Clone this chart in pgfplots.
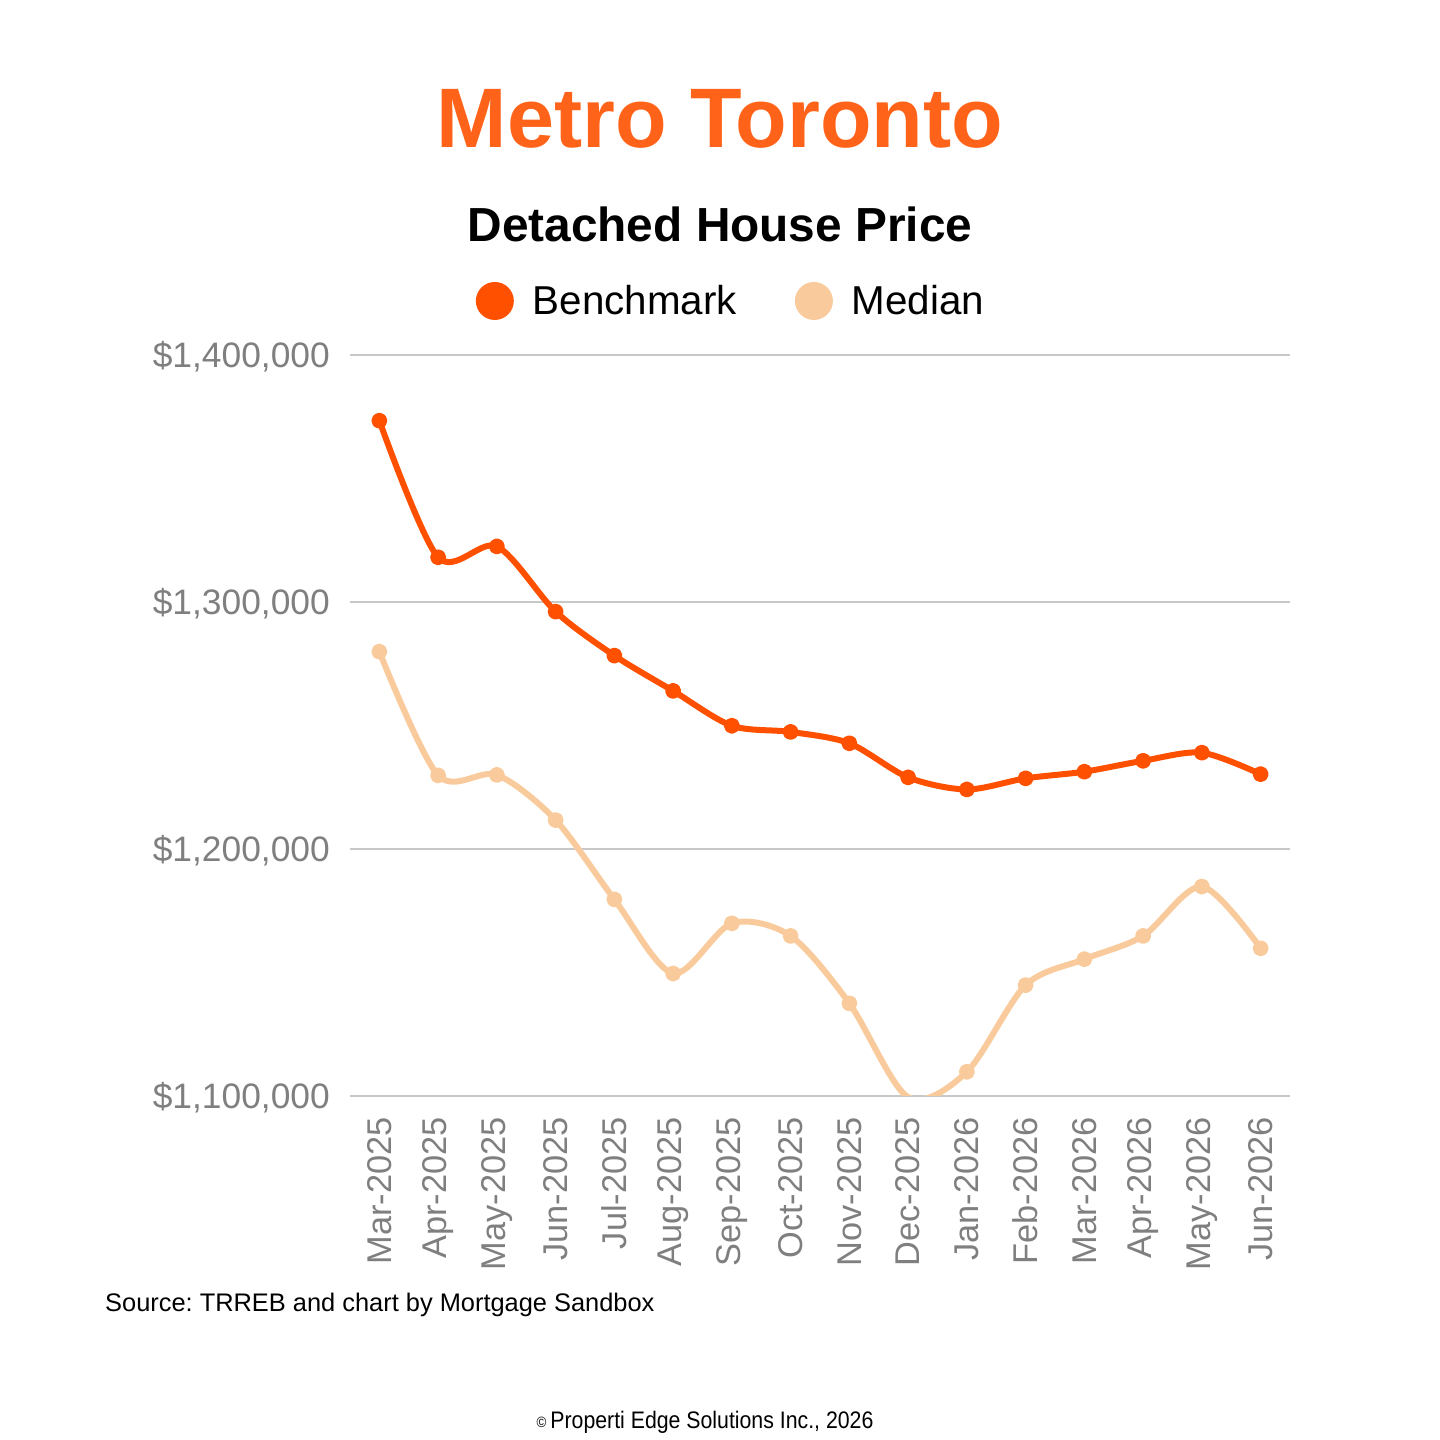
\documentclass[border=0pt]{standalone}
\usepackage{fontspec}
\setmainfont{Liberation Sans}
\newfontfamily\condfont[FakeStretch=0.89]{Liberation Sans}
\usepackage{pgfplots}
\pgfplotsset{compat=1.18}
\definecolor{bench}{HTML}{FF5000}
\definecolor{med}{HTML}{F9CB9C}
\definecolor{titleorange}{HTML}{FF6319}
\definecolor{tickgray}{HTML}{7F7F7F}
\definecolor{gridgray}{HTML}{C8C8C8}
\frenchspacing
\begin{document}
\begin{tikzpicture}
\path[use as bounding box] (0bp,0bp) rectangle (1440bp,1440bp);
\node[anchor=base, text=titleorange, font=\fontsize{84.8}{90}\selectfont\bfseries, inner sep=0pt] at (720bp,1292bp) {Metro Toronto};
\node[anchor=base, font=\fontsize{48}{55}\selectfont\bfseries, inner sep=0pt] at (720bp,1198bp) {Detached House Price};
\node[anchor=base west, font=\fontsize{25.5}{30}\selectfont, inner sep=0pt] at (105bp,128bp) {Source: TRREB and chart by Mortgage Sandbox};
\node[anchor=base, font=\fontsize{24}{30}\selectfont\condfont, inner sep=0pt] at (705bp,12bp) {{\fontsize{15}{18}\selectfont\raisebox{1bp}{©}}\hspace{4bp}Properti Edge Solutions Inc., 2026};
\begin{axis}[
  at={(350bp,344bp)}, anchor=south west,
  width=940bp, height=741bp, scale only axis,
  xmin=-0.5, xmax=15.5, ymin=1100000, ymax=1400000,
  axis line style={draw=none},
  ymajorgrids, grid style={gridgray, line width=2.2bp},
  major tick length=0pt,
  xtick={0,1,...,15},
  xticklabels={Mar-2025,Apr-2025,May-2025,Jun-2025,Jul-2025,Aug-2025,Sep-2025,Oct-2025,Nov-2025,Dec-2025,Jan-2026,Feb-2026,Mar-2026,Apr-2026,May-2026,Jun-2026},
  ytick={1100000,1200000,1300000,1400000},
  yticklabels={{\$1,100,000},{\$1,200,000},{\$1,300,000},{\$1,400,000}},
  scaled y ticks=false,
  yticklabel style={font=\fontsize{35.5}{40}\selectfont, text=tickgray, anchor=base east, inner sep=0pt, yshift=-12.7bp, xshift=-20bp},
  xticklabel style={font=\fontsize{34.5}{40}\selectfont, text=tickgray, yshift=-21bp, rotate=90, anchor=east, inner sep=0pt},
  clip marker paths=true,
  legend columns=2,
  legend image code/.code={\fill[#1, draw=none] (0bp,0bp) circle (19bp);},
  legend style={at={(0.4043,1.0729)}, anchor=center, draw=none, fill=none, inner sep=0pt, outer sep=0pt,
    font=\fontsize{40.5}{46}\selectfont, nodes={inner sep=0pt},
    /tikz/column sep=19bp,
    /tikz/every even column/.append style={column sep=58bp}},
]
\addplot[bench, line width=6bp, line join=round, smooth, mark=*, mark size=5bp, mark options={solid, fill=bench, draw=none}] coordinates {
(0,1373400) (1,1318100) (2,1322500) (3,1296100) (4,1278300) (5,1264000) (6,1249900) (7,1247400)
(8,1242800) (9,1229000) (10,1224100) (11,1228600) (12,1231300) (13,1235700) (14,1239000) (15,1230300)
};
\addlegendentry{Benchmark}
\addplot[med, line width=6bp, line join=round, smooth, mark=*, mark size=5bp, mark options={solid, fill=med, draw=none}] coordinates {
(0,1279900) (1,1229800) (2,1230000) (3,1211700) (4,1179600) (5,1149600) (6,1169900) (7,1164800)
(8,1137500) (9,1099500) (10,1109800) (11,1144900) (12,1155400) (13,1164800) (14,1184800) (15,1159800)
};
\addlegendentry{Median}
\end{axis}
\end{tikzpicture}
\end{document}
